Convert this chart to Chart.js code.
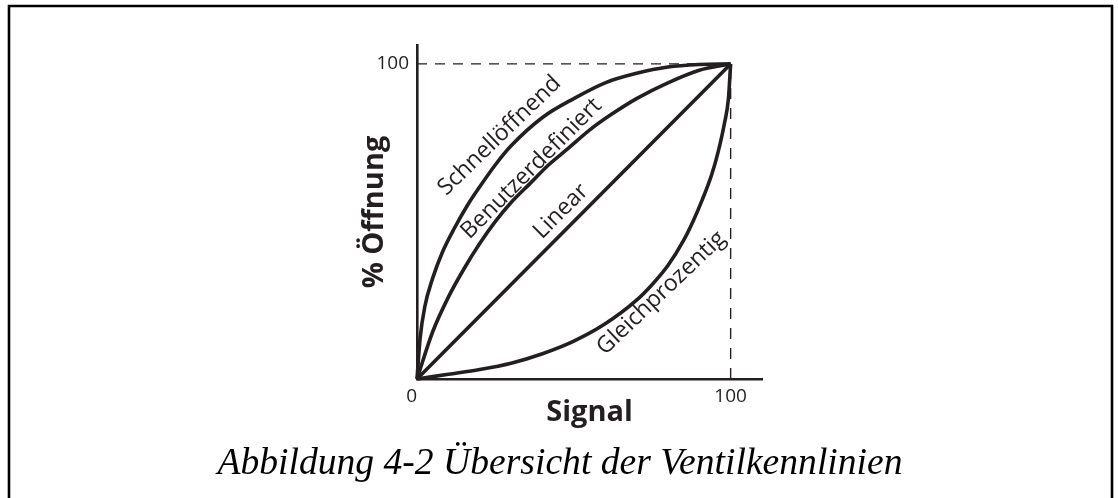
<!DOCTYPE html>
<html lang="de">
<head>
<meta charset="utf-8">
<title>Ventilkennlinien</title>
<script src="https://cdn.jsdelivr.net/npm/chart.js@4.4.1/dist/chart.umd.min.js"></script>
<style>
  html, body { margin: 0; padding: 0; background: #ffffff; }
  #wrap { width: 1118px; height: 498px; position: relative; }
</style>
</head>
<body>
<div id="wrap"><canvas id="chart" width="1118" height="498"></canvas></div>
<script>
// Valve characteristics: % opening over control signal (both 0..100)
const quickSignal   = [0, 1, 2.5, 5, 8, 12, 16, 20, 25, 30, 40, 50, 60, 70, 80, 90, 100];
const quickOpening  = [0, 13, 23, 32, 40, 48, 55, 61, 68, 74, 83, 89, 94, 97, 99, 99.8, 100];

const customSignal  = [0, 5, 10, 15, 20, 25, 30, 36, 42, 48, 55, 62, 70, 80, 90, 100];
const customOpening = [0, 15, 26, 35, 43, 50, 56, 62, 68, 73, 79, 84, 89, 94, 98, 100];

const linearSignal  = [0, 100];
const linearOpening = [0, 100];

const equalSignal   = [0, 10, 20, 30, 40, 50, 60, 70, 75, 80, 85, 88, 91, 94, 96, 98, 99.3, 100];
const equalOpening  = [0, 1.5, 3, 5, 8, 12, 17.5, 25, 30, 36, 44, 50, 57, 65, 72, 81, 89, 100];

// Dashed guides to the full-scale corner
const guideHSignal  = [0, 100];
const guideHOpening = [100, 100];
const guideVSignal  = [100, 100];
const guideVOpening = [0, 100];

const xTickValues = [0, 100];
const yTickValues = [100];

const curveNames = ['Schnellöffnend', 'Benutzerdefiniert', 'Linear', 'Gleichprozentig'];
// label anchor (signal, opening) and text angle in degrees
const curveLabelAt = {
  'Schnellöffnend':    { x: 26.3, y: 77.2, angle: -44 },
  'Benutzerdefiniert': { x: 36.5, y: 66.8, angle: -45 },
  'Linear':            { x: 45.9, y: 53.2, angle: -45 },
  'Gleichprozentig':   { x: 77.9, y: 27.3, angle: -43.6 }
};

const captionText = 'Abbildung 4-2 Übersicht der Ventilkennlinien';

const INK = '#231f20';
const toPoints = (xs, ys) => xs.map((x, i) => ({ x: x, y: ys[i] }));

function curve(label, xs, ys) {
  return {
    label: label,
    data: toPoints(xs, ys),
    borderColor: INK,
    borderWidth: 3.6,
    pointRadius: 0,
    cubicInterpolationMode: 'monotone',
    fill: false,
    clip: false
  };
}
function guide(xs, ys, dash) {
  return {
    label: 'guide',
    data: toPoints(xs, ys),
    borderColor: INK,
    borderWidth: 1.4,
    borderDash: dash,
    pointRadius: 0,
    tension: 0,
    fill: false,
    clip: false
  };
}

// Outer frame and the figure caption underneath the plot
const framePlugin = {
  id: 'frame',
  beforeDraw(chart) {
    const ctx = chart.ctx;
    ctx.save();
    ctx.fillStyle = '#ffffff';
    ctx.fillRect(0, 0, chart.width, chart.height);
    ctx.strokeStyle = '#000000';
    ctx.lineWidth = 2.6;
    ctx.beginPath();
    ctx.moveTo(9, chart.height + 5);
    ctx.lineTo(9, 6);
    ctx.lineTo(1112, 6);
    ctx.lineTo(1112, chart.height + 5);
    ctx.stroke();
    ctx.restore();
  },
  afterDraw(chart) {
    const ctx = chart.ctx;
    ctx.save();
    ctx.fillStyle = '#000000';
    ctx.font = 'italic 38px "Liberation Serif"';
    ctx.textAlign = 'center';
    ctx.textBaseline = 'alphabetic';
    ctx.fillText(captionText, 560, 474, 685);
    ctx.restore();
  }
};

// Curve names written along each characteristic
const curveLabelPlugin = {
  id: 'curveLabels',
  afterDatasetsDraw(chart) {
    const ctx = chart.ctx;
    const xs = chart.scales.x, ys = chart.scales.y;
    ctx.save();
    ctx.fillStyle = INK;
    ctx.font = '23px "Open Sans"';
    ctx.textAlign = 'center';
    ctx.textBaseline = 'middle';
    curveNames.forEach(name => {
      const p = curveLabelAt[name];
      ctx.save();
      ctx.translate(xs.getPixelForValue(p.x), ys.getPixelForValue(p.y));
      ctx.rotate(p.angle * Math.PI / 180);
      ctx.fillText(name, 0, 0);
      ctx.restore();
    });
    ctx.restore();
  }
};

new Chart(document.getElementById('chart'), {
  type: 'line',
  data: {
    datasets: [
      curve(curveNames[0], quickSignal, quickOpening),
      curve(curveNames[1], customSignal, customOpening),
      curve(curveNames[2], linearSignal, linearOpening),
      curve(curveNames[3], equalSignal, equalOpening),
      guide(guideHSignal, guideHOpening, [10, 8]),
      guide(guideVSignal, guideVOpening, [11, 9])
    ]
  },
  options: {
    responsive: false,
    animation: false,
    events: [],
    layout: { padding: { left: 353, right: 356, top: 45, bottom: 64 } },
    scales: {
      x: {
        type: 'linear',
        min: 0,
        max: 110,
        afterFit(s) { s.height = 55; },
        afterBuildTicks(s) { s.ticks = xTickValues.map(v => ({ value: v })); },
        grid: { display: false, drawTicks: false },
        border: { display: true, color: INK, width: 2.6 },
        ticks: {
          color: INK,
          padding: 6,
          font: { family: 'Open Sans', size: 19 },
          maxRotation: 0,
          // the origin label sits a little left of the corner
          callback: v => (v === 0 ? '0\u2007' : String(v))
        },
        title: {
          display: true,
          text: 'Signal',
          color: INK,
          font: { family: 'Open Sans', size: 29, weight: 'bold' },
          padding: { top: 4, bottom: 4 }
        }
      },
      y: {
        type: 'linear',
        min: 0,
        max: 106,
        afterFit(s) { s.width = 64; },
        afterBuildTicks(s) { s.ticks = yTickValues.map(v => ({ value: v })); },
        grid: { display: false, drawTicks: false },
        border: { display: true, color: INK, width: 2.6 },
        ticks: {
          color: INK,
          padding: 8,
          font: { family: 'Open Sans', size: 19 },
          callback: v => String(v)
        },
        title: {
          display: true,
          text: '% Öffnung',
          color: INK,
          font: { family: 'Open Sans', size: 29, weight: 'bold' },
          padding: { top: 4, bottom: 4 }
        }
      }
    },
    plugins: {
      legend: { display: false },
      tooltip: { enabled: false },
      title: { display: false }
    }
  },
  plugins: [framePlugin, curveLabelPlugin]
});
</script>
</body>
</html>
